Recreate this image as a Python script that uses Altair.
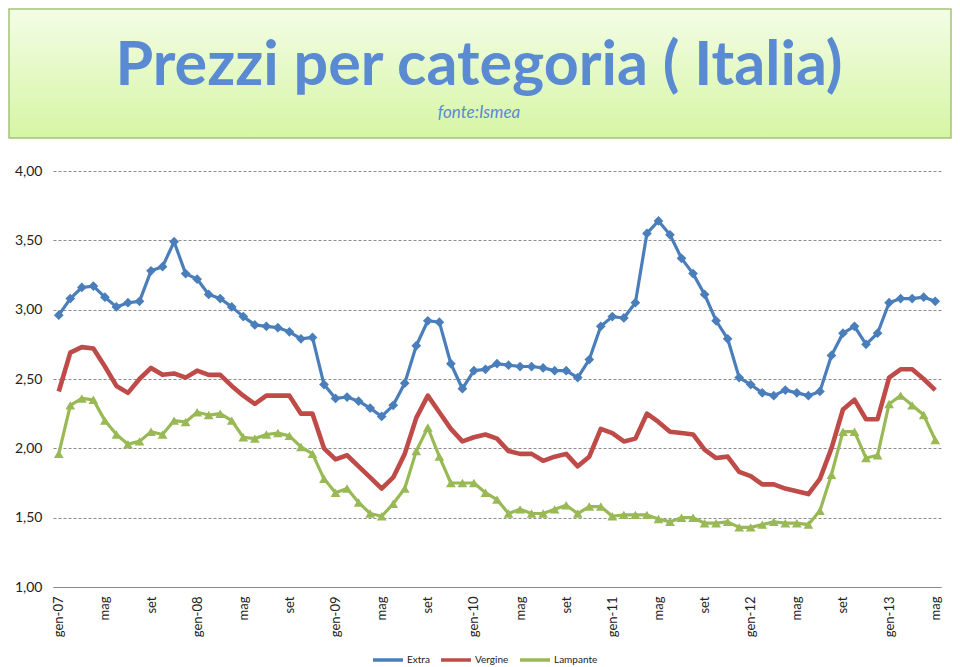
import json
import altair as alt
import pandas as pd

# ---- data (monthly, gen-07 .. mag-13) ----
extra = [2.96, 3.08, 3.16, 3.17, 3.09, 3.02, 3.05, 3.06, 3.28, 3.31,
         3.49, 3.26, 3.22, 3.11, 3.08, 3.02, 2.95, 2.89, 2.88, 2.87,
         2.84, 2.79, 2.80, 2.46, 2.36, 2.37, 2.34, 2.29, 2.23, 2.31,
         2.47, 2.74, 2.92, 2.91, 2.61, 2.43, 2.56, 2.57, 2.61, 2.60,
         2.59, 2.59, 2.58, 2.56, 2.56, 2.51, 2.64, 2.88, 2.95, 2.94,
         3.05, 3.55, 3.64, 3.54, 3.37, 3.26, 3.11, 2.92, 2.79, 2.51,
         2.46, 2.40, 2.38, 2.42, 2.40, 2.38, 2.41, 2.67, 2.83, 2.88,
         2.75, 2.83, 3.05, 3.08, 3.08, 3.09, 3.06]
vergine = [2.41, 2.69, 2.73, 2.72, 2.59, 2.45, 2.40, 2.50, 2.58, 2.53,
           2.54, 2.51, 2.56, 2.53, 2.53, 2.45, 2.38, 2.32, 2.38, 2.38,
           2.38, 2.25, 2.25, 2.00, 1.92, 1.95, 1.87, 1.79, 1.71, 1.79,
           1.96, 2.22, 2.38, 2.26, 2.14, 2.05, 2.08, 2.10, 2.07, 1.98,
           1.96, 1.96, 1.91, 1.94, 1.96, 1.87, 1.94, 2.14, 2.11, 2.05,
           2.07, 2.25, 2.19, 2.12, 2.11, 2.10, 1.99, 1.93, 1.94, 1.83,
           1.80, 1.74, 1.74, 1.71, 1.69, 1.67, 1.78, 2.00, 2.28, 2.35,
           2.21, 2.21, 2.51, 2.57, 2.57, 2.50, 2.42]
lampante = [1.96, 2.31, 2.36, 2.35, 2.20, 2.10, 2.03, 2.05, 2.12, 2.10,
            2.20, 2.19, 2.26, 2.24, 2.25, 2.20, 2.08, 2.07, 2.10, 2.11,
            2.09, 2.01, 1.96, 1.78, 1.68, 1.71, 1.61, 1.53, 1.51, 1.60,
            1.71, 1.98, 2.15, 1.94, 1.75, 1.75, 1.75, 1.68, 1.63, 1.53,
            1.56, 1.53, 1.53, 1.56, 1.59, 1.53, 1.58, 1.58, 1.51, 1.52,
            1.52, 1.52, 1.49, 1.47, 1.50, 1.50, 1.46, 1.46, 1.47, 1.43,
            1.43, 1.45, 1.47, 1.46, 1.46, 1.45, 1.55, 1.81, 2.12, 2.12,
            1.93, 1.95, 2.32, 2.38, 2.31, 2.24, 2.06]
tick_labels = ["gen-07", "mag", "set", "gen-08", "mag", "set", "gen-09", "mag", "set",
               "gen-10", "mag", "set", "gen-11", "mag", "set", "gen-12", "mag", "set",
               "gen-13", "mag"]
series_names = ["Extra", "Vergine", "Lampante"]
series_colors = ["#4a7ebb", "#be4b48", "#98b954"]
title_text = "Prezzi per categoria ( Italia)"
subtitle_text = "fonte:Ismea"

rows = []
for name, vals in zip(series_names, [extra, vergine, lampante]):
    for i, v in enumerate(vals):
        rows.append({"idx": i, "value": v, "serie": name})
df = pd.DataFrame(rows)

FONT = "Lato"
n = len(extra)
W, H = 888, 416

x_enc = alt.X("idx:Q",
              scale=alt.Scale(domain=[-0.5, n - 0.5], nice=False, zero=False),
              axis=alt.Axis(values=list(range(0, n, 4)),
                            labelExpr=json.dumps(tick_labels) + "[round(datum.value/4)]",
                            labelAngle=270, labelFontSize=13, labelFont=FONT,
                            labelColor="#222222", labelPadding=9,
                            ticks=False, grid=False, domainColor="#8a8a8a",
                            domainWidth=1.2, title=None))
y_enc = alt.Y("value:Q",
              scale=alt.Scale(domain=[1, 4], nice=False, zero=False),
              axis=alt.Axis(values=[1, 1.5, 2, 2.5, 3, 3.5, 4],
                            labelExpr="replace(format(datum.value, '.2f'), '.', ',')",
                            labelFontSize=14, labelFont=FONT, labelColor="#222222",
                            labelPadding=11, ticks=False, domain=False,
                            grid=True, gridColor="#8c8c8c", gridDash=[3, 2],
                            gridWidth=1, minExtent=44, maxExtent=44, title=None))

color_scale = alt.Scale(domain=series_names, range=series_colors)
legend = alt.Legend(orient="none", legendX=318, legendY=472,
                    direction="horizontal", title=None,
                    symbolType="stroke", symbolSize=900,
                    symbolStrokeWidth=3.5, labelFontSize=10,
                    labelFont=FONT, labelColor="#222222",
                    columnPadding=4, labelOffset=2)

base = alt.Chart(df)
line_layers = []
for name, sw in zip(series_names, [3.2, 4.6, 3.2]):
    line_layers.append(
        base.transform_filter(alt.datum.serie == name)
        .mark_line(strokeWidth=sw, strokeJoin="round")
        .encode(x=x_enc, y=y_enc,
                color=alt.Color("serie:N", scale=color_scale, legend=legend),
                order="idx:Q")
    )

point_layers = []
for name, shp in [("Extra", "diamond"), ("Lampante", "triangle-up")]:
    point_layers.append(
        base.transform_filter(alt.datum.serie == name)
        .mark_point(filled=True, opacity=1, shape=shp, size=95)
        .encode(x="idx:Q", y="value:Q",
                color=alt.Color("serie:N", scale=color_scale, legend=legend))
    )

# header box (decoration above the plot area)
gradient = alt.LinearGradient(
    gradient="linear",
    stops=[alt.GradientStop(color="#f3fde6", offset=0),
           alt.GradientStop(color="#d6f5a4", offset=1)],
    x1=0, x2=0, y1=0, y2=1)
hdr_df = pd.DataFrame({"t": [title_text], "s": [subtitle_text]})
hdr = alt.Chart(hdr_df)
hdr_bg = hdr.mark_rect(fill=gradient, stroke="#a5c27a", strokeWidth=1.5).encode(
    x=alt.value(-44), x2=alt.value(898), y=alt.value(-162), y2=alt.value(-33))
hdr_title = hdr.mark_text(font=FONT, fontSize=61, fontWeight="bold",
                          color="#5a8ad2", baseline="alphabetic",
                          align="center").encode(
    text="t:N", x=alt.value(426), y=alt.value(-86))
hdr_sub = hdr.mark_text(font=FONT, fontSize=17, fontStyle="italic",
                        color="#5a8ad2", baseline="alphabetic",
                        align="center").encode(
    text="s:N", x=alt.value(426), y=alt.value(-53))

chart = alt.layer(hdr_bg, hdr_title, hdr_sub, *line_layers, *point_layers).properties(
    width=W, height=H, padding=0, background="white"
).configure_view(stroke="transparent")

chart.save("out.html", embed_options={"renderer": "svg", "actions": False})
